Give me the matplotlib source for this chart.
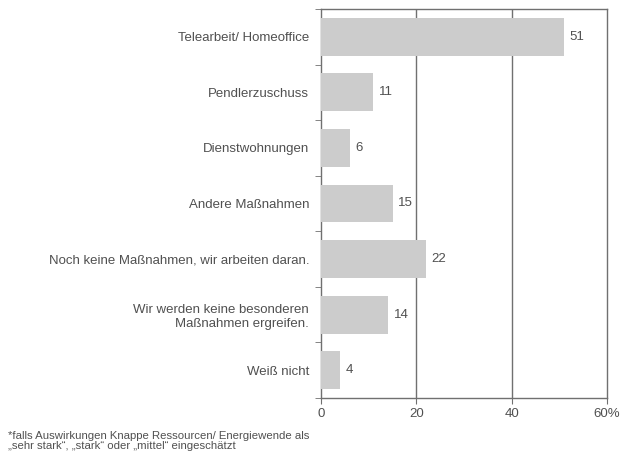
import matplotlib
matplotlib.use("Agg")
import matplotlib.pyplot as plt
import numpy as np

categories = ["Telearbeit/ Homeoffice", "Pendlerzuschuss", "Dienstwohnungen",
              "Andere Maßnahmen", "Noch keine Maßnahmen, wir arbeiten daran.",
              "Wir werden keine besonderen\nMaßnahmen ergreifen.", "Weiß nicht"]
values = [51, 11, 6, 15, 22, 14, 4]
xticks = [0, 20, 40, 60]
xticklabels = ["0", "20", "40", "60%"]
footnote = "*falls Auswirkungen Knappe Ressourcen/ Energiewende als\n\u201esehr stark\u201c, \u201estark\u201c oder \u201emittel\u201c eingeschätzt"

plt.rcParams['font.family'] = ['Liberation Sans', 'DejaVu Sans']
W, H = 628, 457
fig = plt.figure(figsize=(W/100, H/100), dpi=100)
ax = fig.add_axes([321/W, 1-398/H, (607-321)/W, (398-9)/H])

txt = "#505050"
n = len(categories)
y = np.arange(n)
ax.barh(y, values, height=0.68, color="#cccccc", zorder=3)
for yi, v in zip(y, values):
    ax.text(v + 1.2, yi, str(v), va="center", ha="left", fontsize=9.5, color=txt, zorder=4)

ax.set_xlim(0, 60)
ax.set_ylim(n - 0.5, -0.5)
ax.set_xticks(xticks)
ax.set_xticklabels(xticklabels, fontsize=9.5, color=txt)
for xv in xticks[1:-1]:
    ax.axvline(xv, color="#707070", lw=1, zorder=2)

ax.set_yticks(y)
ax.set_yticklabels(categories, fontsize=9.5, color=txt, ha="right")
ax.tick_params(axis="y", length=0, pad=8.5)
ax.set_yticks(np.arange(-0.5, n + 0.5, 1), minor=True)
ax.tick_params(axis="y", which="minor", length=4, color="#707070", direction="out")
ax.tick_params(axis="x", length=4, color="#707070", direction="out", pad=3)
for s in ax.spines.values():
    s.set_color("#707070")
    s.set_linewidth(1)
for lbl in ax.get_yticklabels():
    lbl.set_multialignment("right")

fig.text(8/W, 1-431/H, footnote, fontsize=8.2, color=txt, va="top", ha="left", linespacing=1.0)

fig.savefig("out.png", dpi=100)
